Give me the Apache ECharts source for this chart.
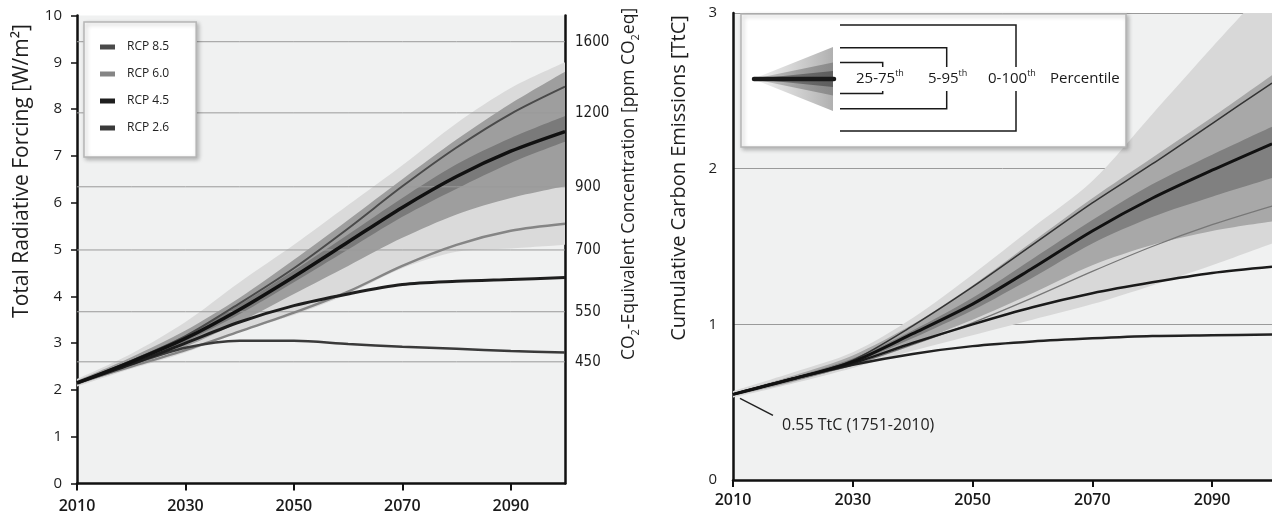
<!DOCTYPE html>
<html><head><meta charset="utf-8">
<script src="https://cdn.jsdelivr.net/npm/echarts@6/dist/echarts.min.js"></script>
<style>html,body{margin:0;padding:0;background:#fff}#c{width:1272px;height:518px}</style>
</head><body><div id="c"></div>
<script>
// ---------- data ----------
const years = [2010, 2020, 2030, 2040, 2050, 2060, 2070, 2080, 2090, 2100];

// Left panel: total radiative forcing [W/m2]
const forcingRcp85 = [2.15, 2.62, 3.15, 3.85, 4.6, 5.45, 6.35, 7.18, 7.9, 8.48];
const forcingRcp60 = [2.15, 2.5, 2.85, 3.25, 3.65, 4.1, 4.65, 5.1, 5.4, 5.55];
const forcingRcp45 = [2.15, 2.55, 3.0, 3.45, 3.8, 4.05, 4.25, 4.32, 4.36, 4.4];
const forcingRcp26 = [2.15, 2.55, 2.9, 3.05, 3.05, 2.98, 2.92, 2.88, 2.83, 2.8];
const forcingMedian = [2.15, 2.6, 3.1, 3.72, 4.42, 5.16, 5.9, 6.56, 7.1, 7.52];
const forcingP25 = [2.13, 2.56, 3.03, 3.62, 4.3, 5.0, 5.7, 6.3, 6.85, 7.3];
const forcingP75 = [2.17, 2.64, 3.16, 3.82, 4.55, 5.32, 6.1, 6.82, 7.38, 7.85];
const forcingP5 = [2.1, 2.5, 2.92, 3.45, 4.05, 4.65, 5.25, 5.75, 6.1, 6.35];
const forcingP95 = [2.2, 2.7, 3.27, 3.97, 4.78, 5.63, 6.5, 7.35, 8.12, 8.8];
const forcingP0 = [2.07, 2.45, 2.8, 3.25, 3.6, 4.05, 4.6, 4.95, 5.02, 5.1];
const forcingP100 = [2.23, 2.77, 3.45, 4.3, 5.1, 5.95, 6.8, 7.7, 8.45, 9.0];

// right-hand axis of the left panel: CO2-eq concentration ticks and the forcing they sit at
const ppmTickLabels = ['1600', '1200', '900', '700', '550', '450'];
const ppmTickForcing = [9.44, 7.92, 6.34, 4.99, 3.67, 2.60];

// Right panel: cumulative carbon emissions [TtC]
const carbonRcp85 = [0.55, 0.65, 0.77, 0.99, 1.24, 1.51, 1.78, 2.03, 2.29, 2.55];
const carbonRcp60 = [0.55, 0.64, 0.74, 0.87, 1.01, 1.17, 1.34, 1.5, 1.64, 1.76];
const carbonRcp45 = [0.55, 0.65, 0.75, 0.88, 1.0, 1.11, 1.2, 1.27, 1.33, 1.37];
const carbonRcp26 = [0.55, 0.65, 0.74, 0.81, 0.86, 0.89, 0.91, 0.925, 0.93, 0.935];
const carbonMedian = [0.55, 0.65, 0.76, 0.94, 1.13, 1.36, 1.6, 1.81, 1.99, 2.16];
const carbonP25 = [0.545, 0.64, 0.75, 0.91, 1.09, 1.3, 1.52, 1.69, 1.82, 1.94];
const carbonP75 = [0.555, 0.66, 0.78, 0.96, 1.17, 1.42, 1.67, 1.9, 2.09, 2.27];
const carbonP5 = [0.54, 0.63, 0.74, 0.88, 1.03, 1.2, 1.38, 1.51, 1.6, 1.66];
const carbonP95 = [0.56, 0.67, 0.8, 1.0, 1.25, 1.53, 1.81, 2.07, 2.33, 2.6];
const carbonP0 = [0.53, 0.62, 0.72, 0.83, 0.93, 1.03, 1.13, 1.25, 1.38, 1.52];
const carbonP100 = [0.57, 0.69, 0.82, 1.04, 1.32, 1.62, 1.92, 2.35, 2.78, 3.2];

const legendNames = ['RCP 8.5', 'RCP 6.0', 'RCP 4.5', 'RCP 2.6'];
const annotationValue = 0.55;
const annotationText = '0.55 TtC (1751-2010)';
const insetLabels = ['25-75', '5-95', '0-100'];
const insetWord = 'Percentile';

// ---------- helpers ----------
const FONT = '"Open Sans", "Noto Sans", sans-serif';
const NARROW = '"Liberation Sans Narrow", "DejaVu Sans Condensed", "Open Sans", sans-serif';

function band(id, lo, hi, color, xi, yi) {
  return [
    { type: 'line', name: id + '-lo', xAxisIndex: xi, yAxisIndex: yi, stack: id, data: lo.slice(),
      symbol: 'none', smooth: 0.3, lineStyle: { width: 0, opacity: 0 }, silent: true },
    { type: 'line', name: id + '-hi', xAxisIndex: xi, yAxisIndex: yi, stack: id,
      data: hi.map((v, i) => v - lo[i]),
      symbol: 'none', smooth: 0.3, lineStyle: { width: 0, opacity: 0 }, areaStyle: { color: color, opacity: 1 }, silent: true }
  ];
}
function curve(name, arr, color, width, xi, yi) {
  return { type: 'line', name: name, xAxisIndex: xi, yAxisIndex: yi, data: arr.slice(), symbol: 'none', smooth: 0.3,
    itemStyle: { color: color }, lineStyle: { color: color, width: width } };
}

const series = [];
ppmTickForcing.forEach((v, i) => {
  series.push({ type: 'line', name: 'g' + i, xAxisIndex: 0, yAxisIndex: 0, silent: true, symbol: 'none',
    data: years.map(() => v), lineStyle: { color: '#9a9a9a', width: 1 } });
});
series.push(...band('fa', forcingP0, forcingP100, '#dadada', 0, 0));
series.push(...band('fb', forcingP5, forcingP95, '#9e9e9e', 0, 0));
series.push(...band('fc', forcingP25, forcingP75, '#7a7a7a', 0, 0));
series.push(curve('RCP 6.0', forcingRcp60, '#858585', 2.5, 0, 0));
series.push(curve('RCP 2.6', forcingRcp26, '#3a3a3a', 2.5, 0, 0));
series.push(curve('RCP 4.5', forcingRcp45, '#1e1e1e', 3, 0, 0));
series.push(curve('RCP 8.5', forcingRcp85, '#4a4a4a', 2, 0, 0));
series.push(curve('median F', forcingMedian, '#111', 3.5, 0, 0));

series.push(...band('ca', carbonP0, carbonP100, '#d8d8d8', 1, 2));
series.push(...band('cb', carbonP5, carbonP95, '#a8a8a8', 1, 2));
series.push(...band('cc', carbonP25, carbonP75, '#808080', 1, 2));
series.push(curve('C RCP 6.0', carbonRcp60, '#777', 1.3, 1, 2));
series.push(curve('C RCP 2.6', carbonRcp26, '#222', 2.5, 1, 2));
series.push(curve('C RCP 4.5', carbonRcp45, '#1a1a1a', 2.5, 1, 2));
series.push(curve('C RCP 8.5', carbonRcp85, '#333', 1.5, 1, 2));
const medC = curve('C median', carbonMedian, '#111', 3, 1, 2);
medC.markPoint = {
  symbol: 'circle', symbolSize: 0, silent: true,
  data: [{ coord: [0, annotationValue],
    label: { show: true, formatter: annotationText, position: 'right', offset: [44, 31],
      fontFamily: FONT, fontSize: 16, color: '#222' } }]
};
series.push(medC);

// ---------- axes ----------
function xAxisFor(grid, margin) {
  return {
    type: 'category', gridIndex: grid, data: years, boundaryGap: false,
    axisLine: { lineStyle: { color: '#111', width: 2.5 } },
    axisTick: { show: true, interval: 1, length: 7, lineStyle: { color: '#111', width: 2 } },
    splitLine: { show: false },
    axisLabel: { interval: 1, margin: margin, fontFamily: FONT, fontSize: 16, fontWeight: 600, color: '#1a1a1a' }
  };
}

// inset legend graphics (right panel)
const cy = 79;
const graphics = [
  { type: 'rect', shape: { x: 741, y: 14, width: 385, height: 133 },
    style: { fill: '#fff', stroke: '#b5b5b5', lineWidth: 1.5, shadowBlur: 4, shadowColor: 'rgba(0,0,0,0.25)', shadowOffsetX: 2, shadowOffsetY: 2 }, z: 10 },
  { type: 'polygon', shape: { points: [[753, cy], [833, cy - 32], [833, cy + 32]] },
    style: { fill: new echarts.graphic.LinearGradient(0, 0, 1, 0, [{ offset: 0, color: 'rgba(190,190,190,0.2)' }, { offset: 1, color: '#b0b0b0' }]) }, z: 11 },
  { type: 'polygon', shape: { points: [[753, cy], [833, cy - 16.5], [833, cy + 16.5]] },
    style: { fill: new echarts.graphic.LinearGradient(0, 0, 1, 0, [{ offset: 0, color: 'rgba(140,140,140,0.3)' }, { offset: 1, color: '#8a8a8a' }]) }, z: 12 },
  { type: 'polygon', shape: { points: [[753, cy], [833, cy - 8], [833, cy + 8]] },
    style: { fill: new echarts.graphic.LinearGradient(0, 0, 1, 0, [{ offset: 0, color: 'rgba(90,90,90,0.4)' }, { offset: 1, color: '#5e5e5e' }]) }, z: 13 },
  { type: 'line', shape: { x1: 754, y1: cy, x2: 834, y2: cy }, style: { stroke: '#1a1a1a', lineWidth: 4.5, lineCap: 'round' }, z: 14 },
  { type: 'polyline', shape: { points: [[840, 25], [1016, 25], [1016, 131], [840, 131]] }, style: { stroke: '#1a1a1a', lineWidth: 1.5, fill: null }, z: 11 },
  { type: 'polyline', shape: { points: [[840, 47.7], [946.7, 47.7], [946.7, 108.7], [840, 108.7]] }, style: { stroke: '#1a1a1a', lineWidth: 1.5, fill: null }, z: 11 },
  { type: 'polyline', shape: { points: [[840, 62.5], [882.7, 62.5], [882.7, 93.5], [840, 93.5]] }, style: { stroke: '#1a1a1a', lineWidth: 1.5, fill: null }, z: 11 }
];
const insetX = [855, 927, 987];
insetLabels.forEach((t, i) => {
  graphics.push({ type: 'text', x: insetX[i], y: cy, z: 15,
    style: { text: '{n|' + t + '}{s|th}', textAlign: 'left', textVerticalAlign: 'middle', backgroundColor: '#fff', padding: [2, 1],
      rich: { n: { fontFamily: FONT, fontSize: 15, fill: '#1a1a1a', lineHeight: 20 },
              s: { fontFamily: FONT, fontSize: 9, fill: '#1a1a1a', verticalAlign: 'top', lineHeight: 12 } } } });
});
graphics.push({ type: 'text', x: 1050, y: cy, z: 15,
  style: { text: insetWord, font: '15px ' + FONT, fill: '#1a1a1a', textAlign: 'left', textVerticalAlign: 'middle' } });

// axis titles
graphics.push(
  { type: 'text', x: 22, y: 171, rotation: Math.PI / 2, z: 20,
    style: { text: 'Total Radiative Forcing [W/m²]', font: '21px ' + FONT, fill: '#1e1e1e', textAlign: 'center', textVerticalAlign: 'middle' } },
  { type: 'text', x: 629, y: 184, rotation: Math.PI / 2, z: 20,
    style: { text: '{n|CO}{s|2}{n|-Equivalent Concentration [ppm CO}{s|2}{n|eq]}', textAlign: 'center', textVerticalAlign: 'middle',
      rich: { n: { fontFamily: FONT, fontSize: 17.5, fill: '#1e1e1e', lineHeight: 24 },
              s: { fontFamily: FONT, fontSize: 11, fill: '#1e1e1e', verticalAlign: 'bottom', lineHeight: 12 } } } },
  { type: 'text', x: 679, y: 178, rotation: Math.PI / 2, z: 20,
    style: { text: 'Cumulative Carbon Emissions [TtC]', font: '20px ' + FONT, fill: '#1e1e1e', textAlign: 'center', textVerticalAlign: 'middle' } }
);

const option = {
  animation: false,
  backgroundColor: '#fff',
  grid: [
    { left: 77, top: 15.5, width: 488, height: 468, show: true, backgroundColor: '#f0f1f1', borderWidth: 0 },
    { left: 733, top: 13, width: 544.5, height: 467, show: true, backgroundColor: '#f0f1f1', borderWidth: 0 }
  ],
  xAxis: [xAxisFor(0, 15), xAxisFor(1, 12)],
  yAxis: [
    { type: 'value', gridIndex: 0, min: 0, max: 10, interval: 1, position: 'left',
      axisLine: { show: true, lineStyle: { color: '#111', width: 2.5 } },
      axisTick: { show: true, length: 6, lineStyle: { color: '#111', width: 1.5 } },
      splitLine: { show: false },
      axisLabel: { fontFamily: FONT, fontSize: 15, color: '#1e1e1e', margin: 15 } },
    { type: 'value', gridIndex: 0, min: 0, max: 10, position: 'right',
      axisLine: { show: true, lineStyle: { color: '#111', width: 2.5 } },
      axisTick: { show: false }, splitLine: { show: false },
      axisLabel: { customValues: ppmTickForcing, fontFamily: NARROW, fontSize: 15, color: '#1e1e1e', margin: 10,
        formatter: v => {
          let best = 0;
          ppmTickForcing.forEach((f, i) => { if (Math.abs(f - v) < Math.abs(ppmTickForcing[best] - v)) best = i; });
          return ppmTickLabels[best];
        } } },
    { type: 'value', gridIndex: 1, min: 0, max: 3, interval: 1, position: 'left',
      axisLine: { show: true, lineStyle: { color: '#111', width: 2.5 } },
      axisTick: { show: false },
      splitLine: { show: true, lineStyle: { color: '#9a9a9a', width: 1 } },
      axisLabel: { fontFamily: FONT, fontSize: 15, color: '#1e1e1e', margin: 16 } }
  ],
  legend: {
    data: legendNames, orient: 'vertical', left: 84, top: 22, selectedMode: false,
    icon: 'rect', itemWidth: 15, itemHeight: 5, itemGap: 13, itemStyle: { borderWidth: 0 },
    padding: [18, 27, 22, 16],
    backgroundColor: '#fff', borderColor: '#b5b5b5', borderWidth: 1.5,
    shadowBlur: 4, shadowColor: 'rgba(0,0,0,0.25)', shadowOffsetX: 2, shadowOffsetY: 2,
    textStyle: { fontFamily: FONT, fontSize: 12, color: '#222', lineHeight: 14, padding: [0, 0, 0, 7] }
  },
  graphic: graphics,
  series: series
};
const chart = echarts.init(document.getElementById('c'), null, { renderer: 'canvas' });
chart.setOption(option);
// leader line for the annotation, anchored at the 2010 value through the axis scales
const p = chart.convertToPixel({ xAxisIndex: 1, yAxisIndex: 2 }, [0, annotationValue]);
option.graphic = graphics.concat([{ type: 'line', z: 20, shape: { x1: p[0] + 7, y1: p[1] + 4, x2: p[0] + 40, y2: p[1] + 21 },
  style: { stroke: '#222', lineWidth: 1.5 } }]);
chart.setOption(option, true);
</script>
</body></html>
